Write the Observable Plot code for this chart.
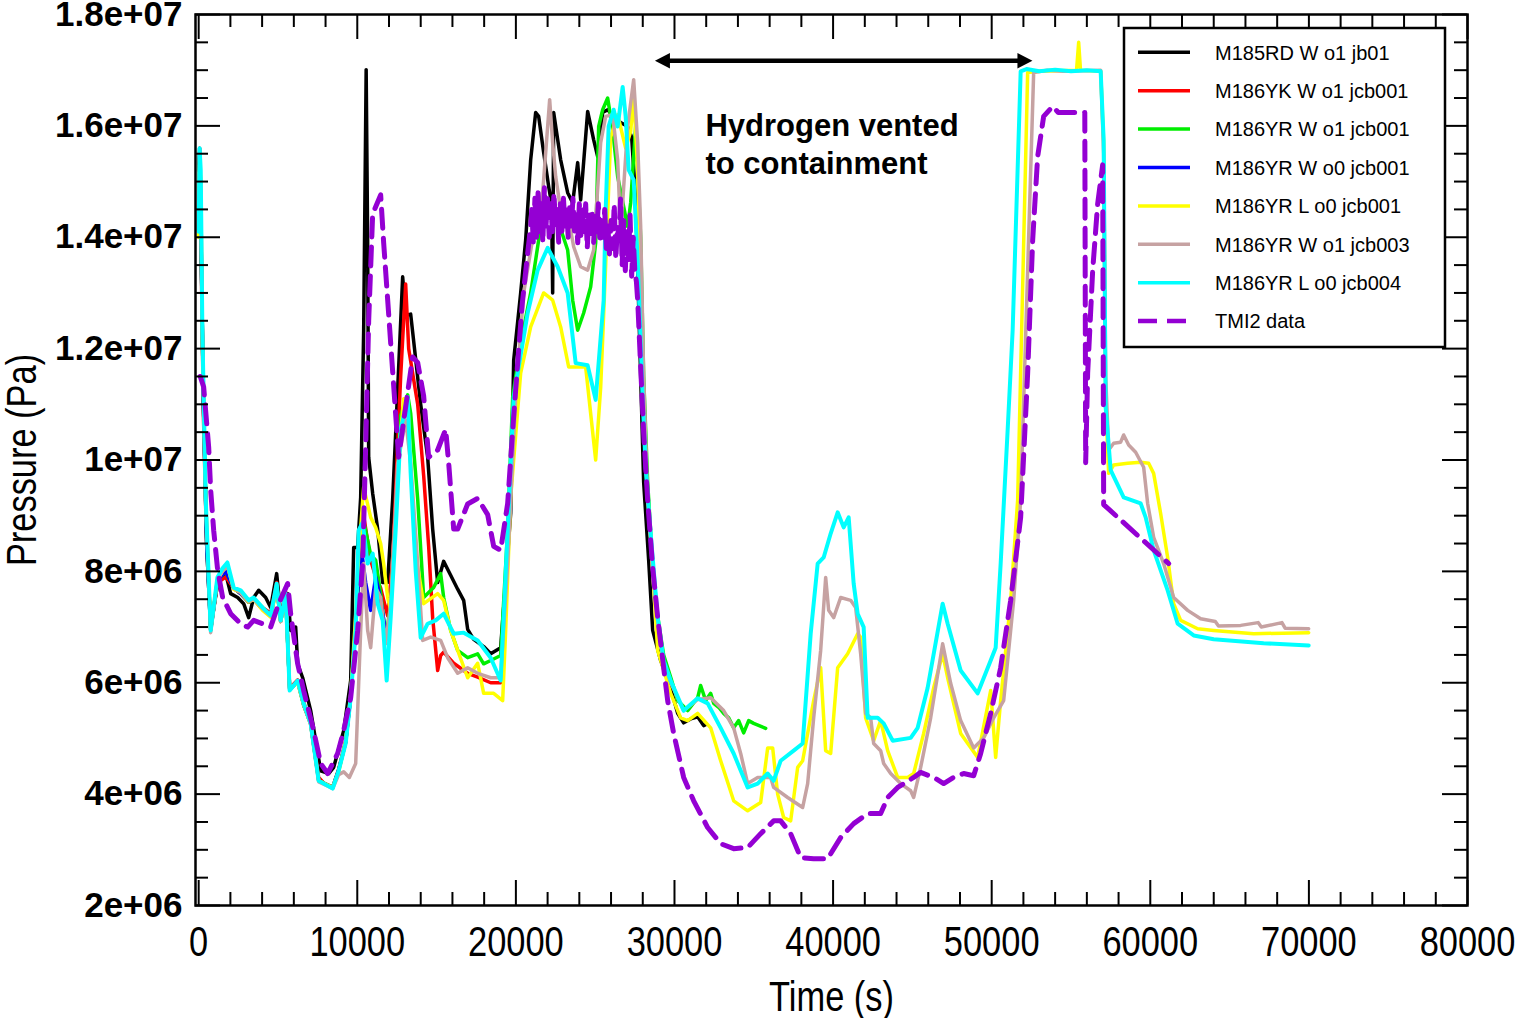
<!DOCTYPE html>
<html>
<head>
<meta charset="utf-8">
<script src="https://cdn.jsdelivr.net/npm/d3@7"></script>
<script src="https://cdn.jsdelivr.net/npm/@observablehq/plot@0.6"></script>
<style>
  body { margin: 0; background: #fff; }
  #chart svg { display: block; }
</style>
</head>
<body>
<div id="chart"></div>
<script>
// Time (s) and pressure (Pa) for each calculation and for the plant data.
const jb01 = [[0,15.2e6],[60,15.6e6],[150,14.0e6],[300,11.0e6],[500,8.6e6],[757,7.0e6],[1198,7.78e6],[1702,7.96e6],[2018,7.6e6],[2459,7.53e6],[2837,7.42e6],[3153,7.17e6],[3468,7.53e6],[3783,7.66e6],[4224,7.53e6],[4540,7.35e6],[4918,7.96e6],[5170,7.24e6],[5611,7.6e6],[5800,6.94e6],[6116,7.0e6],[6242,6.34e6],[6557,6.09e6],[7062,5.5e6],[7692,4.42e6],[8197,4.37e6],[8512,4.48e6],[9142,5.14e6],[9584,6.04e6],[9773,8.43e6],[10025,8.43e6],[10214,9.33e6],[10403,12.33e6],[10560,17.01e6],[10655,13.9e6],[10719,10.05e6],[10971,9.4e6],[11286,8.76e6],[11601,7.8e6],[11916,7.8e6],[12232,9.3e6],[12610,11.67e6],[12862,13.29e6],[13051,12.6e6],[13367,12.62e6],[13997,11.0e6],[14438,10.05e6],[14754,8.76e6],[15069,7.8e6],[15447,8.18e6],[15889,7.93e6],[16330,7.68e6],[16708,7.48e6],[16960,6.96e6],[17339,6.78e6],[17969,6.65e6],[18411,6.52e6],[19041,6.63e6],[19672,9.04e6],[19861,11.79e6],[20302,13.0e6],[20617,13.95e6],[20933,15.39e6],[21248,16.24e6],[21437,16.17e6],[21752,15.52e6],[22068,14.91e6],[22250,14.6e6],[22319,13.0e6],[22383,16.24e6],[22824,15.39e6],[23265,14.8e6],[23581,14.62e6],[23896,15.34e6],[24085,14.67e6],[24526,16.26e6],[24905,15.75e6],[25157,15.45e6],[25472,16.24e6],[25787,16.29e6],[26166,16.17e6],[26607,16.06e6],[27048,15.99e6],[27300,15.8e6],[27553,14.67e6],[27868,11.5e6],[28057,9.6e6],[28372,8.2e6],[28625,6.94e6],[29129,6.4e6],[29760,5.9e6],[30201,5.45e6],[30579,5.28e6],[31020,5.35e6],[31462,5.39e6],[31840,5.23e6],[32000,5.25e6]];

const yk_jcb001 = [[0,15.0e6],[60,15.4e6],[150,13.8e6],[300,10.8e6],[500,8.5e6],[757,6.95e6],[1198,7.8e6],[1702,7.9e6],[2207,7.7e6],[2648,7.6e6],[3153,7.45e6],[3468,7.5e6],[4035,7.35e6],[4540,7.25e6],[4918,7.8e6],[5170,7.15e6],[5485,7.62e6],[5738,5.9e6],[6242,6.05e6],[6620,5.65e6],[7062,5.3e6],[7566,4.3e6],[7881,4.2e6],[8449,4.12e6],[8827,4.45e6],[9268,4.95e6],[9584,5.75e6],[9899,7.0e6],[10214,8.6e6],[10403,9.0e6],[10845,8.2e6],[11160,7.9e6],[11475,7.7e6],[11916,7.2e6],[12232,8.2e6],[12736,11.5e6],[13051,13.16e6],[13240,12.0e6],[13808,11.0e6],[14186,9.72e6],[14501,8.45e6],[14754,7.16e6],[15069,6.22e6],[15258,6.49e6],[15447,6.55e6],[16078,6.35e6],[16960,6.17e6],[17591,6.1e6],[18411,6.0e6],[19041,6.0e6]];

const yr_w_o1_jcb001 = [[0,14.5e6],[60,15.3e6],[150,14.0e6],[300,11.0e6],[500,8.5e6],[757,6.95e6],[1198,7.85e6],[1702,8.0e6],[2207,7.7e6],[2648,7.6e6],[3153,7.45e6],[3468,7.5e6],[4035,7.32e6],[4540,7.2e6],[4918,7.75e6],[5170,7.1e6],[5485,7.58e6],[5738,5.88e6],[6242,6.02e6],[6620,5.6e6],[7062,5.26e6],[7566,4.25e6],[7881,4.2e6],[8449,4.12e6],[8827,4.43e6],[9268,4.93e6],[9584,5.75e6],[9899,7.0e6],[10214,8.5e6],[10403,8.9e6],[10845,8.3e6],[11160,8.2e6],[11475,7.6e6],[11790,6.8e6],[12106,7.4e6],[12421,9.0e6],[12736,10.8e6],[13177,11.17e6],[13367,10.84e6],[13808,9.3e6],[14186,7.53e6],[14817,7.71e6],[15258,7.96e6],[15447,7.53e6],[15889,6.94e6],[16330,6.58e6],[16960,6.45e6],[17591,6.52e6],[17969,6.34e6],[18411,6.4e6],[19041,6.49e6],[19482,8.74e6],[19798,11.13e6],[20302,12.1e6],[20933,13.0e6],[21563,14.19e6],[22004,14.62e6],[22635,14.31e6],[23265,13.77e6],[23581,12.87e6],[23896,12.33e6],[24274,12.64e6],[24716,13.11e6],[25031,13.9e6],[25220,15.99e6],[25472,16.29e6],[25787,16.5e6],[26103,15.93e6],[26418,15.09e6],[27048,14.19e6],[27237,14.62e6],[27553,15.99e6],[27868,14.0e6],[28057,11.5e6],[28309,9.6e6],[28625,8.1e6],[28940,7.2e6],[29318,6.5e6],[29760,6.1e6],[30201,5.68e6],[30831,5.5e6],[31462,5.73e6],[31651,5.95e6],[31966,5.68e6],[32281,5.81e6],[32471,5.63e6],[32786,5.56e6],[33101,5.45e6],[33416,5.37e6],[33732,5.19e6],[34047,5.32e6],[34362,5.1e6],[34677,5.32e6],[34993,5.27e6],[35749,5.18e6]];

const yr_w_o0_jcb001 = [[0,14.5e6],[150,14.0e6],[300,11.0e6],[500,8.5e6],[757,6.95e6],[1198,7.85e6],[1702,8.0e6],[2207,7.7e6],[2648,7.6e6],[3153,7.45e6],[3468,7.5e6],[4035,7.32e6],[4540,7.2e6],[4918,7.75e6],[5170,7.1e6],[5485,7.58e6],[5738,5.88e6],[6242,6.02e6],[6620,5.6e6],[7062,5.26e6],[7566,4.25e6],[7881,4.2e6],[8449,4.12e6],[8827,4.43e6],[9268,4.93e6],[9584,5.75e6],[9899,7.0e6],[10214,8.5e6],[10529,7.8e6],[10845,7.3e6],[11160,7.9e6],[11475,7.5e6],[11790,6.9e6]];

const yr_l_o0_jcb001 = [[0,14.0e6],[60,15.4e6],[130,15.0e6],[233,12.2e6],[441,9.3e6],[757,6.95e6],[1179,7.85e6],[1494,8.0e6],[1810,8.1e6],[2207,7.68e6],[2648,7.62e6],[3153,7.45e6],[3468,7.5e6],[4035,7.3e6],[4540,7.18e6],[4918,7.7e6],[5170,7.1e6],[5485,7.55e6],[5738,5.9e6],[6242,6.0e6],[6620,5.6e6],[7062,5.25e6],[7566,4.25e6],[7881,4.2e6],[8449,4.12e6],[8827,4.4e6],[9268,4.95e6],[9584,5.8e6],[9899,7.2e6],[10088,8.3e6],[10403,9.51e6],[10845,8.97e6],[11160,8.79e6],[11475,8.5e6],[11664,8.14e6],[11916,7.53e6],[12106,7.3e6],[12421,8.9e6],[12736,10.5e6],[12925,11.1e6],[13177,11.1e6],[13367,9.9e6],[13682,8.3e6],[14186,7.42e6],[15069,7.6e6],[15447,7.48e6],[15889,6.94e6],[16330,6.58e6],[16960,6.09e6],[17591,6.35e6],[17969,5.81e6],[18600,5.81e6],[19167,5.68e6],[19356,6.94e6],[19672,9.33e6],[20302,11.56e6],[20933,12.39e6],[21752,13.0e6],[22319,12.87e6],[22824,12.39e6],[23329,11.67e6],[24400,11.67e6],[25031,10.0e6],[25346,11.3e6],[25661,13.5e6],[25976,15.8e6],[26418,16.2e6],[26922,15.6e6],[27237,15.9e6],[27427,16.55e6],[27679,15.2e6],[27868,13.0e6],[28057,11.0e6],[28183,9.9e6],[28499,8.6e6],[28940,6.58e6],[29760,5.81e6],[30390,5.37e6],[30831,5.32e6],[31462,5.45e6],[32281,5.19e6],[32912,4.6e6],[33732,3.88e6],[34614,3.7e6],[35434,3.85e6],[35875,4.83e6],[36191,4.83e6],[36506,4.0e6],[36884,3.58e6],[37326,3.52e6],[37767,4.48e6],[38082,4.6e6],[38776,5.68e6],[39217,6.27e6],[39532,4.78e6],[39848,4.73e6],[40289,6.27e6],[40919,6.52e6],[41550,6.88e6],[41739,6.82e6],[42054,5.37e6],[42559,4.96e6],[43000,5.32e6],[43441,4.78e6],[44072,4.3e6],[44702,4.3e6],[45081,4.37e6],[45711,5.09e6],[46342,5.91e6],[46909,6.52e6],[47224,6.09e6],[48044,5.09e6],[49116,4.66e6],[49936,5.86e6],[50251,4.66e6],[50566,5.68e6],[51197,7.48e6],[51638,9.28e6],[52268,16.96e6],[53000,16.98e6],[55350,17.0e6],[55484,17.5e6],[55600,17.0e6],[56871,16.98e6],[57060,15.7e6],[57186,11.0e6],[57376,9.76e6],[57690,9.91e6],[58573,9.94e6],[59393,9.96e6],[59897,9.94e6],[60212,9.76e6],[60653,9.04e6],[61095,8.25e6],[61474,7.42e6],[61915,7.12e6],[62987,6.97e6],[63996,6.94e6],[66518,6.88e6],[69986,6.9e6]];

const yr_w_o1_jcb003 = [[0,14.3e6],[60,15.3e6],[130,15.0e6],[233,12.3e6],[441,9.3e6],[757,6.9e6],[1179,7.85e6],[1494,8.0e6],[1810,8.1e6],[2207,7.7e6],[2648,7.62e6],[3153,7.46e6],[3468,7.5e6],[4035,7.33e6],[4540,7.2e6],[4918,7.75e6],[5170,7.1e6],[5485,7.58e6],[5738,5.9e6],[6242,6.02e6],[6620,5.62e6],[7062,5.25e6],[7566,4.22e6],[7881,4.18e6],[8449,4.1e6],[8827,4.35e6],[9142,4.4e6],[9500,4.3e6],[9899,4.55e6],[10214,6.94e6],[10403,8.14e6],[10655,6.94e6],[10845,6.63e6],[11160,7.71e6],[11475,7.53e6],[11790,6.7e6],[12106,7.4e6],[12547,9.94e6],[13051,10.72e6],[13367,9.94e6],[13808,8.14e6],[14123,6.76e6],[14628,6.82e6],[15258,6.76e6],[15699,6.45e6],[16330,6.17e6],[16960,6.27e6],[17591,6.17e6],[18411,6.09e6],[19041,6.09e6],[19482,8.14e6],[19987,11.13e6],[20491,13.0e6],[21122,14.08e6],[21689,14.8e6],[22004,15.99e6],[22130,16.47e6],[22319,15.7e6],[22509,15.09e6],[22824,14.49e6],[23265,14.43e6],[23644,13.83e6],[24085,13.47e6],[24526,13.41e6],[24905,13.77e6],[25346,15.7e6],[25661,16.17e6],[26103,16.2e6],[26418,15.39e6],[26607,14.08e6],[27048,15.99e6],[27427,16.83e6],[27679,15.7e6],[27868,14.2e6],[28057,11.5e6],[28309,9.3e6],[28625,8.0e6],[28940,7.1e6],[29318,6.35e6],[29760,6.0e6],[30579,5.5e6],[31462,5.7e6],[32281,5.73e6],[33101,5.5e6],[33732,5.19e6],[34173,4.73e6],[34614,4.19e6],[35245,4.3e6],[36065,4.3e6],[36254,4.12e6],[37136,3.94e6],[38082,3.76e6],[38397,4.19e6],[38776,5.37e6],[39217,6.58e6],[39532,7.89e6],[39722,7.3e6],[40037,7.17e6],[40478,7.53e6],[41109,7.48e6],[41424,7.35e6],[41739,6.52e6],[42054,5.45e6],[42370,5.37e6],[42559,4.91e6],[43000,4.78e6],[43189,4.55e6],[43631,4.37e6],[44261,4.19e6],[44892,4.06e6],[45081,3.94e6],[45522,4.48e6],[46153,5.37e6],[46909,6.7e6],[47413,5.99e6],[48044,5.32e6],[48864,4.83e6],[49494,5.01e6],[50125,5.37e6],[50755,5.68e6],[51386,7.48e6],[51827,9.28e6],[52647,16.96e6],[53500,17.0e6],[54500,16.98e6],[56871,17.0e6],[57060,15.5e6],[57186,11.5e6],[57376,10.18e6],[57690,10.3e6],[58131,10.32e6],[58321,10.45e6],[58637,10.27e6],[59078,10.14e6],[59582,9.87e6],[59834,9.22e6],[60212,8.61e6],[60843,8.14e6],[61474,7.53e6],[62356,7.3e6],[63176,7.15e6],[64100,7.1e6],[64300,7.02e6],[65698,7.03e6],[66800,7.08e6],[67000,7.0e6],[68300,7.08e6],[68500,6.98e6],[69986,6.97e6]];

const yr_l_o0_jcb004 = [[0,14.1e6],[60,15.6e6],[130,15.2e6],[233,12.33e6],[441,9.33e6],[757,6.94e6],[1179,7.89e6],[1494,8.05e6],[1810,8.16e6],[2207,7.71e6],[2648,7.66e6],[3153,7.48e6],[3468,7.53e6],[4035,7.35e6],[4540,7.21e6],[4918,7.78e6],[5170,7.12e6],[5485,7.6e6],[5738,5.86e6],[6242,6.04e6],[6620,5.63e6],[7062,5.27e6],[7566,4.24e6],[7881,4.19e6],[8449,4.1e6],[8827,4.42e6],[9268,4.91e6],[9584,5.73e6],[9899,6.94e6],[10088,8.74e6],[10340,8.88e6],[10655,8.14e6],[10971,8.32e6],[11286,7.42e6],[11601,7.12e6],[11853,6.04e6],[12106,7.17e6],[12421,8.74e6],[12736,10.54e6],[13177,11.13e6],[13367,9.76e6],[13682,8.02e6],[13997,6.81e6],[14438,7.06e6],[14943,7.12e6],[15447,7.24e6],[16078,6.88e6],[16708,6.9e6],[17591,6.76e6],[18411,6.45e6],[19041,6.04e6],[19482,8.74e6],[19861,11.13e6],[20743,12.64e6],[21374,13.41e6],[22004,13.81e6],[22635,13.47e6],[23265,13.0e6],[23770,11.74e6],[24526,11.7e6],[25031,11.08e6],[25535,12.87e6],[25661,14.49e6],[25850,15.99e6],[26166,16.29e6],[26418,15.99e6],[26733,16.7e6],[26922,16.17e6],[27111,15.21e6],[27427,15.03e6],[27679,13.59e6],[27994,11.08e6],[28183,9.87e6],[28499,8.68e6],[28940,7.17e6],[29318,6.4e6],[29760,6.04e6],[30579,5.5e6],[31462,5.72e6],[32092,5.63e6],[32912,5.19e6],[33732,4.73e6],[34614,4.12e6],[35245,4.19e6],[35875,4.37e6],[36254,4.24e6],[36695,4.6e6],[37515,4.78e6],[38082,4.91e6],[38587,6.88e6],[39028,8.14e6],[39406,8.25e6],[39848,8.68e6],[40289,9.06e6],[40667,8.79e6],[40983,8.97e6],[41298,7.78e6],[41550,7.24e6],[41928,7.0e6],[42180,5.37e6],[42811,5.37e6],[43189,5.27e6],[43757,4.96e6],[44892,5.01e6],[45333,5.19e6],[45963,5.91e6],[46909,7.42e6],[47224,7.06e6],[48044,6.22e6],[49116,5.81e6],[49936,6.4e6],[50251,6.63e6],[50566,8.14e6],[51007,10.54e6],[51322,12.33e6],[51827,16.98e6],[52200,17.02e6],[53000,16.98e6],[54000,17.01e6],[55000,16.98e6],[56000,17.0e6],[56871,16.98e6],[57060,15.75e6],[57186,10.95e6],[57501,9.82e6],[58321,9.33e6],[59393,9.22e6],[59708,8.97e6],[60212,8.38e6],[61095,7.66e6],[61726,7.06e6],[62735,6.85e6],[63996,6.78e6],[67148,6.71e6],[69986,6.67e6]];

const tmi2 = [[100,11.5e6],[315,11.31e6],[631,10.23e6],[757,9.46e6],[946,8.74e6],[1198,8.02e6],[1513,7.53e6],[2018,7.24e6],[2648,7.06e6],[3089,7.0e6],[3468,7.12e6],[4035,7.06e6],[4540,7.0e6],[5044,7.42e6],[5611,7.78e6],[5800,7.24e6],[6242,6.34e6],[6620,5.86e6],[7251,5.14e6],[7692,4.55e6],[8133,4.37e6],[8764,4.73e6],[9142,5.14e6],[9584,5.73e6],[10025,6.94e6],[10340,8.14e6],[10529,10.23e6],[10719,12.5e6],[10971,14.42e6],[11475,14.76e6],[11664,13.9e6],[11979,12.62e6],[12295,11.33e6],[12610,10.05e6],[12925,10.7e6],[13493,11.85e6],[13808,11.75e6],[14186,11.15e6],[14501,10.05e6],[15069,10.18e6],[15573,10.55e6],[15762,9.95e6],[16078,8.76e6],[16330,8.76e6],[16960,9.21e6],[17591,9.31e6],[18221,9.02e6],[18600,8.45e6],[19041,8.38e6],[19482,9.22e6],[19798,10.54e6],[20113,11.74e6],[20400,12.8e6],[20700,13.6e6],[20933,14.2e6],[21000,14.5e6],[21100,13.9e6],[21200,14.7e6],[21300,14.0e6],[21400,14.8e6],[21500,14.1e6],[21600,14.6e6],[21700,13.9e6],[21800,14.9e6],[21900,14.2e6],[22000,14.7e6],[22100,14.0e6],[22200,14.6e6],[22300,14.1e6],[22400,14.8e6],[22500,14.2e6],[22600,14.5e6],[22700,13.9e6],[22800,14.6e6],[22900,14.1e6],[23000,14.7e6],[23100,14.2e6],[23200,14.5e6],[23300,14.0e6],[23400,14.6e6],[23500,14.2e6],[23600,14.7e6],[23700,14.1e6],[23800,14.4e6],[23900,13.9e6],[24000,14.6e6],[24100,14.0e6],[24200,14.5e6],[24300,14.1e6],[24400,14.6e6],[24500,13.8e6],[24600,14.4e6],[24700,14.0e6],[24800,14.5e6],[24900,13.9e6],[25000,14.4e6],[25100,14.1e6],[25200,14.6e6],[25300,13.9e6],[25400,14.3e6],[25500,14.0e6],[25600,14.5e6],[25700,13.8e6],[25800,14.2e6],[25900,13.7e6],[26000,14.3e6],[26100,13.8e6],[26200,14.6e6],[26300,13.6e6],[26400,14.2e6],[26500,14.0e6],[26600,14.7e6],[26700,13.5e6],[26800,14.3e6],[26900,13.4e6],[27000,14.1e6],[27100,13.6e6],[27200,14.4e6],[27300,13.3e6],[27400,14.0e6],[27500,13.4e6],[27600,13.2e6],[27679,12.87e6],[27868,11.67e6],[28057,10.48e6],[28309,9.28e6],[28625,8.07e6],[28940,7.17e6],[29318,6.27e6],[29570,5.68e6],[29949,5.09e6],[30579,4.3e6],[31210,3.88e6],[32092,3.4e6],[32912,3.11e6],[33732,3.02e6],[34614,3.04e6],[35434,3.29e6],[36254,3.52e6],[36695,3.52e6],[37326,3.29e6],[37956,2.86e6],[38776,2.84e6],[39658,2.84e6],[40478,3.22e6],[41298,3.47e6],[42180,3.65e6],[43000,3.65e6],[43441,3.94e6],[44072,4.12e6],[45081,4.3e6],[45522,4.39e6],[46342,4.3e6],[46972,4.19e6],[47602,4.3e6],[48233,4.37e6],[48864,4.33e6],[49305,4.73e6],[49936,5.45e6],[50566,6.27e6],[51197,7.48e6],[51827,8.97e6],[52268,11.56e6],[52584,13.95e6],[52899,15.45e6],[53277,16.17e6],[53845,16.35e6],[54200,16.24e6],[55870,16.24e6],[55925,9.95e6],[56051,11.56e6],[56367,13.4e6],[56682,14.6e6],[56997,15.3e6],[57060,9.2e6],[61159,8.14e6]];

// Series names, colours and drawing order (later series are drawn on top).
const seriesNames = ["M185RD W o1 jb01", "M186YK W o1 jcb001", "M186YR W o1 jcb001", "M186YR W o0 jcb001", "M186YR L o0 jcb001", "M186YR W o1 jcb003", "M186YR L o0 jcb004", "TMI2 data"];
const seriesColors = ["#000000", "#ff0000", "#00ee00", "#0000ff", "#ffff00", "#c6a2a2", "#00ffff", "#9400d3"];
const seriesData = [jb01, yk_jcb001, yr_w_o1_jcb001, yr_w_o0_jcb001, yr_l_o0_jcb001, yr_w_o1_jcb003, yr_l_o0_jcb004, tmi2];

// Axis ticks
const xTicks = [0, 10000, 20000, 30000, 40000, 50000, 60000, 70000, 80000];
const yTicks = [2e6, 4e6, 6e6, 8e6, 10e6, 12e6, 14e6, 16e6, 18e6];
const xMinorTicks = d3.range(0, 80001, 2000).filter(v => v % 10000 !== 0);
const yMinorTicks = d3.range(2e6, 18e6, 5e5).filter(v => v % 2e6 !== 0);

// Annotation of the venting period
const ventStart = 28800, ventEnd = 52600, ventLevel = 17.16e6;
const ventText = "Hydrogen vented\nto containment";

const W = 1518, H = 1018;
const M = {top: 14, right: 51, bottom: 113, left: 195};
const frameW = W - M.left - M.right;
const frameH = H - M.top - M.bottom;

const sans = "'Liberation Sans', Arial, Helvetica, sans-serif";
// The x tick labels and the axis titles are set condensed (squeezed after layout).
const condensed = "'Liberation Sans', Arial, sans-serif";
const condensedRatio = 0.8;

const expFormat = v => {
  const [m, e] = v.toExponential().split("e");
  return `${m}e${e[0]}${e.slice(1).padStart(2, "0")}`;
};

// Inward ticks on all four sides, drawn as rules with insets.
const tickRules = (values, len, width, dim) => dim === "x"
  ? [Plot.ruleX(values, {x: d => d, insetTop: frameH - len, stroke: "black", strokeWidth: width}),
     Plot.ruleX(values, {x: d => d, insetBottom: frameH - len, stroke: "black", strokeWidth: width})]
  : [Plot.ruleY(values, {y: d => d, insetRight: frameW - len, stroke: "black", strokeWidth: width}),
     Plot.ruleY(values, {y: d => d, insetLeft: frameW - len, stroke: "black", strokeWidth: width})];

const lineMarks = seriesData.map((data, i) => Plot.line(data, {
  x: d => d[0],
  y: d => d[1],
  stroke: seriesColors[i],
  strokeWidth: i === 7 ? 5 : i === 6 ? 4 : 3.5,
  strokeDasharray: i === 7 ? "19,10" : null,
  strokeLinejoin: "round"
}));

const plot = Plot.plot({
  width: W,
  height: H,
  marginTop: M.top,
  marginRight: M.right,
  marginBottom: M.bottom,
  marginLeft: M.left,
  x: {domain: [-200, 80000]},
  y: {domain: [2e6, 18e6]},
  style: {background: "white", fontFamily: sans, overflow: "visible"},
  marks: [
    ...lineMarks,
    ...tickRules(xTicks, 25, 2, "x"),
    ...tickRules(xMinorTicks, 13, 2, "x"),
    ...tickRules(yTicks, 25, 2, "y"),
    ...tickRules(yMinorTicks, 13, 2, "y"),
    Plot.frame({stroke: "black", strokeWidth: 2.5}),
    Plot.axisX(xTicks, {anchor: "bottom", tickSize: 0, tickPadding: 20, tickFormat: d => String(d), fontSize: 43, fontFamily: condensed, fill: "black", label: null}),
    Plot.axisY(yTicks, {anchor: "left", tickSize: 0, tickPadding: 13, tickFormat: expFormat, fontSize: 35, fontWeight: "bold", fontFamily: sans, fill: "black", label: null}),
    Plot.text([ventText], {x: 31950, y: 16.31e6, text: d => d, textAnchor: "start", lineAnchor: "top", lineHeight: 1.226, fontSize: 31, fontWeight: "bold", fontFamily: sans, fill: "black"}),
    Plot.text(["Time (s)"], {frameAnchor: "bottom", dy: 92, text: d => d, textAnchor: "middle", lineAnchor: "middle", fontSize: 43, fontFamily: condensed, fill: "black"}),
    Plot.text(["Pressure (Pa)"], {frameAnchor: "left", dx: -173, rotate: -90, text: d => d, textAnchor: "middle", lineAnchor: "middle", fontSize: 43, fontFamily: condensed, fill: "black"})
  ]
});

// Double-headed arrow over the venting period, placed with the plot's scales.
const xs = plot.scale("x"), ys = plot.scale("y");
const svg = d3.select(plot);
const ax1 = xs.apply(ventStart), ax2 = xs.apply(ventEnd), ay = ys.apply(ventLevel);
const headL = 15, headH = 7.8;
const arrow = svg.append("g");
arrow.append("line")
  .attr("x1", ax1 + headL - 2).attr("x2", ax2 - headL + 2)
  .attr("y1", ay).attr("y2", ay)
  .attr("stroke", "black").attr("stroke-width", 4.5);
arrow.append("path")
  .attr("d", `M${ax1},${ay}L${ax1 + headL},${ay - headH}L${ax1 + headL},${ay + headH}Z`)
  .attr("fill", "black");
arrow.append("path")
  .attr("d", `M${ax2},${ay}L${ax2 - headL},${ay - headH}L${ax2 - headL},${ay + headH}Z`)
  .attr("fill", "black");

// Legend box in the upper right of the frame.
const legend = svg.append("g")
  .attr("font-family", sans)
  .attr("font-size", 20)
  .attr("text-anchor", "start");
legend.append("rect")
  .attr("x", 1124).attr("y", 28).attr("width", 321).attr("height", 319)
  .attr("fill", "white").attr("stroke", "black").attr("stroke-width", 2.5);
seriesNames.forEach((name, i) => {
  const y = 52.3 + i * 38.4;
  legend.append("line")
    .attr("x1", 1138).attr("x2", 1190).attr("y1", y).attr("y2", y)
    .attr("stroke", seriesColors[i])
    .attr("stroke-width", i === 7 ? 4.5 : 3.5)
    .attr("stroke-dasharray", i === 7 ? "19,10" : null);
  legend.append("text")
    .attr("x", 1215).attr("y", y).attr("dy", "0.36em")
    .attr("text-anchor", "start")
    .attr("fill", "black")
    .text(name);
});

document.getElementById("chart").appendChild(plot);

// Squeeze the condensed labels horizontally.
plot.querySelectorAll("g[font-family]").forEach(g => {
  if (g.getAttribute("font-family") !== condensed) return;
  g.querySelectorAll("text").forEach(el => {
    const w = el.getComputedTextLength();
    el.setAttribute("textLength", (w * condensedRatio).toFixed(1));
    el.setAttribute("lengthAdjust", "spacingAndGlyphs");
  });
});
</script>
</body>
</html>
